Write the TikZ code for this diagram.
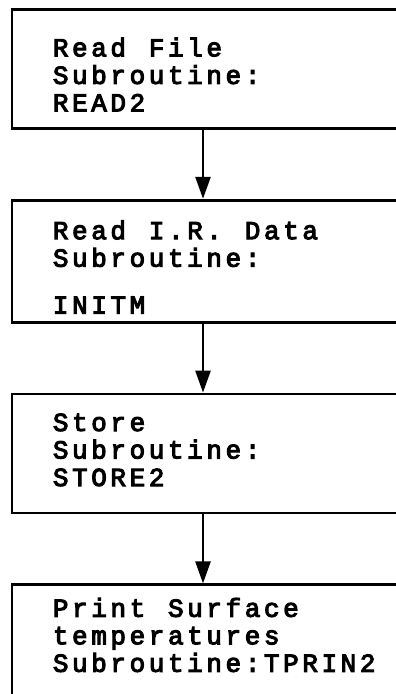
\documentclass[tikz,border=0pt]{standalone}
\usepackage{fontspec}
\setmonofont[LetterSpace=13.8,FakeBold=4]{Liberation Mono}
\usepackage{tikz}
\usetikzlibrary{arrows.meta,positioning}
\newcommand\flowfont{\ttfamily\fontsize{26}{27.5}\selectfont}

\begin{document}
\begin{tikzpicture}[
  x=1pt,y=1pt,
  node distance=69pt,
  box/.style={draw,line width=2.8pt,text width=338pt,inner xsep=41pt,inner ysep=0pt,
    font=\flowfont,execute at begin node={\spaceskip 22.8pt\relax}},
  arr/.style={-{Triangle[length=22pt,width=15pt]},line width=2.6pt}]
\clip (0,0) rectangle (396,-694);
\coordinate (axis) at (203,0);
\node[box,anchor=north west,text height=47pt,text depth=72pt] (read) at (10.5,-8) {Read File\\Subroutine:\\READ2};
\node[box,below=of read,text height=39pt,text depth=83pt] (irdata) {Read I.R. Data\\Subroutine:\\[19.5pt]INITM};
\node[box,below=of irdata,text height=37pt,text depth=82pt] (store) {Store\\Subroutine:\\STORE2};
\node[box,below=of store,text height=32pt,text depth=120pt] (tprint) {Print Surface\\temperatures\\Subroutine:TPRIN2};
\draw[arr] (read.south -| axis) -- (irdata.north -| axis);
\draw[arr] (irdata.south -| axis) -- (store.north -| axis);
\draw[arr] (store.south -| axis) -- (tprint.north -| axis);
\end{tikzpicture}
\end{document}
